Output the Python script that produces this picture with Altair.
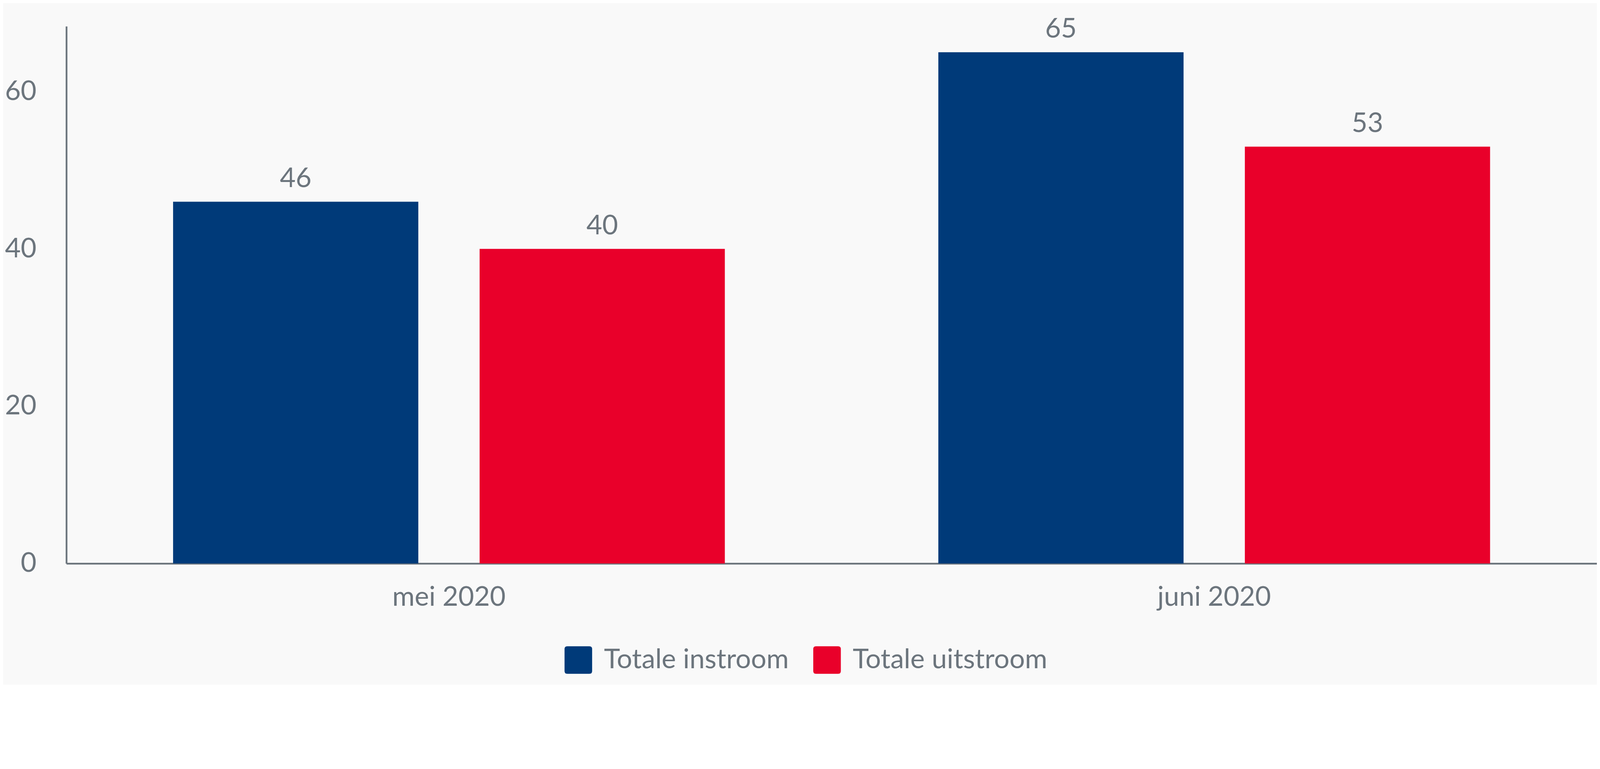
import altair as alt
import pandas as pd

months = ["mei 2020", "juni 2020"]
series = ["Totale instroom", "Totale uitstroom"]
instroom = [46, 65]
uitstroom = [40, 53]
colors = ["#003a79", "#e9002a"]
y_ticks = [0, 20, 40, 60]

rows = []
for i, m in enumerate(months):
    rows.append({"maand": m, "reeks": series[0], "waarde": instroom[i]})
    rows.append({"maand": m, "reeks": series[1], "waarde": uitstroom[i]})
df = pd.DataFrame(rows)

GRAY = "#6c757d"
FONT = "Lato"
S = 1 / 1.1151          # picture pixels -> page pixels
FS = round(78 * S, 1)

rounded_sq = "M-1,-0.8 Q-1,-1 -0.8,-1 L0.8,-1 Q1,-1 1,-0.8 L1,0.8 Q1,1 0.8,1 L-0.8,1 Q-1,1 -1,0.8 Z"

x = alt.X("maand:N", sort=months, title=None,
          scale=alt.Scale(paddingInner=0.279, paddingOuter=0.1395),
          axis=alt.Axis(labelAngle=0, labelFont=FONT, labelFontSize=FS, labelColor=GRAY,
                        labelPadding=59 * S, labelLimit=2000, ticks=False, tickSize=0, domainColor=GRAY,
                        domainWidth=5 * S, grid=False))
xoff = alt.XOffset("reeks:N", sort=series, scale=alt.Scale(paddingInner=0.2, paddingOuter=0))
y = alt.Y("waarde:Q", title=None,
          scale=alt.Scale(domain=[0, 68.3], nice=False, zero=True),
          axis=alt.Axis(values=y_ticks, labelFont=FONT, labelFontSize=FS, labelColor=GRAY,
                        labelPadding=86 * S, ticks=False, tickSize=0, domainColor=GRAY,
                        domainWidth=5 * S, grid=False, labelBaseline="middle"))
color = alt.Color("reeks:N", sort=series, title=None,
                  scale=alt.Scale(domain=series, range=colors),
                  legend=alt.Legend(orient="none", direction="horizontal",
                                    legendX=1427 * S, legendY=1776 * S,
                                    symbolType=rounded_sq, symbolSize=(79 * S) ** 2, symbolStrokeWidth=0,
                                    symbolOpacity=1, labelFont=FONT, labelFontSize=FS,
                                    labelColor=GRAY, labelOffset=34 * S, columnPadding=69 * S,
                                    padding=0, labelLimit=2000))

bars = alt.Chart(df).mark_bar().encode(x=x, xOffset=xoff, y=y, color=color)
labels = alt.Chart(df).mark_text(font=FONT, fontSize=FS, color=GRAY, baseline="alphabetic", dy=-42 * S).encode(
    x=x, xOffset=xoff, y=y, text=alt.Text("waarde:Q"))

W_TOTAL, H_TOTAL = 4094, 1745
PL, PT = 190 * S - 8, 72 * S - 8
PW, PH = 4384 * S, 1539 * S

chart = alt.layer(bars, labels).properties(
    width=PW, height=PH,
    padding={"left": PL, "top": PT, "right": max(W_TOTAL - PL - PW, 0), "bottom": H_TOTAL - PT - PH},
    autosize=alt.AutoSizeParams(type="none"),
    background="#f9f9f9",
).configure_view(stroke=None).configure_axis(domainCap="butt")

chart.save("out.html", embed_options={"renderer": "svg", "actions": False})
